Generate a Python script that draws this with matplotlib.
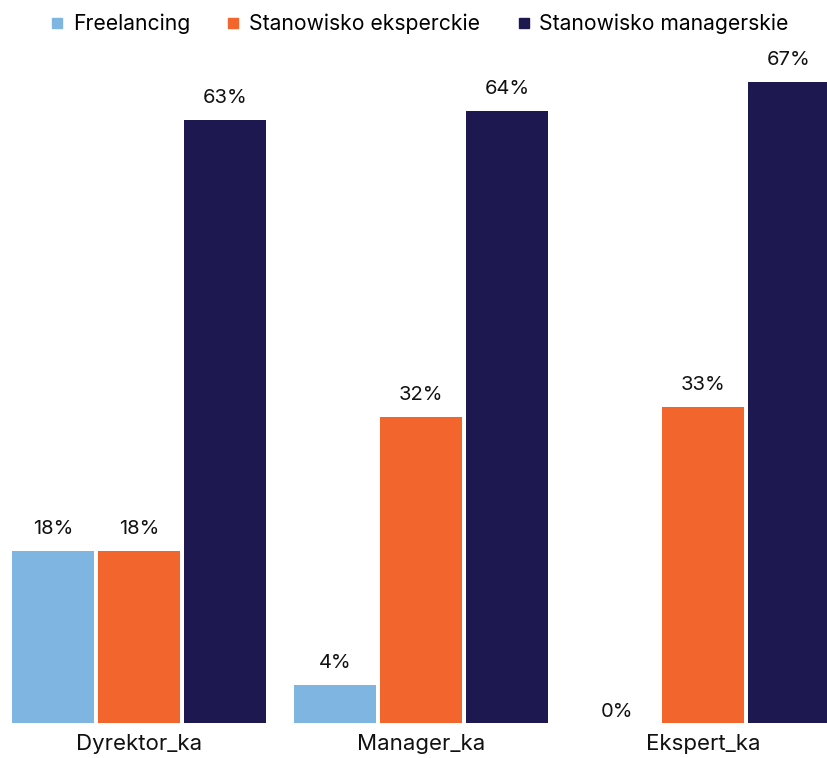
import numpy as np
import matplotlib.pyplot as plt
from matplotlib.lines import Line2D

plt.rcParams['font.family'] = ['Inter', 'DejaVu Sans']

# Data
categories = ['Dyrektor_ka', 'Manager_ka', 'Ekspert_ka']
series_names = ['Freelancing', 'Stanowisko eksperckie', 'Stanowisko managerskie']
freelancing = [18, 4, 0]
ekspert = [18, 32, 33]
manager = [63, 64, 67]
colors = ['#7FB5E1', '#F2652C', '#1D1850']

fig = plt.figure(figsize=(8.27, 7.58), dpi=100)
ax = fig.add_axes([0, 35 / 758, 1, (723 - 40) / 758])

x = np.arange(len(categories))
width = 82 / 282
step = 86 / 282

for i, (vals, col, name) in enumerate(zip([freelancing, ekspert, manager], colors, series_names)):
    pos = x + (i - 1) * step
    bars = ax.bar(pos, vals, width=width, color=col, label=name)
    for b, v in zip(bars, vals):
        pad = 13 if v > 0 else 2
        ax.annotate(f'{v}%', xy=(b.get_x() + b.get_width() / 2, v),
                    xytext=(0, pad), textcoords='offset pixels',
                    ha='center', va='bottom', fontsize=14.5, color='#111111')

ax.set_xlim(-139 / 282, (827 - 139) / 282)
ax.set_ylim(0, 683 / 9.57)
ax.set_xticks(x)
ax.set_xticklabels(categories, fontsize=16, color='#111111')
ax.tick_params(axis='x', length=0, pad=8)
ax.set_yticks([])
for s in ax.spines.values():
    s.set_visible(False)

handles = [Line2D([], [], marker='s', linestyle='none', markersize=7,
                  markerfacecolor=c, markeredgecolor=c) for c in colors]
fig.legend(handles, series_names, loc='upper center', bbox_to_anchor=(0.505, 1.0),
           ncol=3, frameon=False, fontsize=15.2, handletextpad=0.25,
           columnspacing=1.55, handlelength=1.0, borderaxespad=0.25)

fig.savefig('out.png', dpi=100)
